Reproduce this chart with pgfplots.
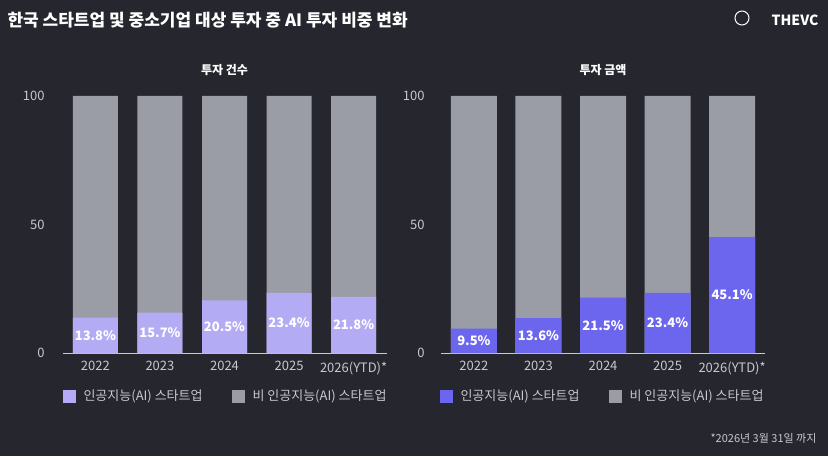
\documentclass[border=0pt]{standalone}
\usepackage{pgfplots}
\pgfplotsset{compat=1.18}
\usepackage{fontspec}
\setmainfont{Noto Sans CJK KR}
\definecolor{bg}{HTML}{25262E}
\definecolor{grayb}{HTML}{9A9CA6}
\definecolor{lightp}{HTML}{B3ABF4}
\definecolor{bluep}{HTML}{6C66EE}
\definecolor{txt}{HTML}{C8C8CE}
\definecolor{gridc}{HTML}{3A3B44}
\pgfplotsset{
 panel/.style={
  scale only axis, width=324pt, height=257pt, anchor=south west,
  xmin=-0.51, xmax=4.51, ymin=0, ymax=100,
  axis x line*=bottom, axis y line=none,
  x axis line style={draw=txt, line width=0.8pt},
  ytick={0,50,100}, ymajorgrids, grid style={gridc, line width=0.6pt},
  xtick={0,1,2,3,4}, xticklabels={2022,2023,2024,2025,2026(YTD)*},
  major tick length=0pt, xticklabel shift=5pt,
  tick label style={font=\fontsize{13}{15}\selectfont, text=txt},
  /pgf/number format/assume math mode=true,
  clip=false,
 },
 lbl/.style={draw=none, mark=none, nodes near coords, point meta=explicit symbolic,
  nodes near coords style={anchor=center, text=white, font=\bfseries\fontsize{13}{15}\selectfont}},
}
\begin{document}
\begin{tikzpicture}
\begin{scope}[x=1pt,y=1pt]
\fill[bg] (0,0) rectangle (828,456);
\node[anchor=west, text=white, font=\bfseries\fontsize{17}{19}\selectfont] at (4,436) {한국 스타트업 및 중소기업 대상 투자 중 AI 투자 비중 변화};
\node[anchor=east, text=white, font=\bfseries\itshape\fontsize{14}{16}\selectfont] at (822,436) {THEVC};
\draw[white, line width=1pt] (742,438) circle (7pt);
\foreach \v/\y in {0/103,50/231.5,100/360} \node[anchor=east,text=txt,font=\fontsize{13}{15}\selectfont] at (48,\y) {\v};
\node[text=white, font=\bfseries\fontsize{12}{14}\selectfont] at (224.5,386) {투자 건수};
\foreach \v/\y in {0/103,50/231.5,100/360} \node[anchor=east,text=txt,font=\fontsize{13}{15}\selectfont] at (428,\y) {\v};
\node[text=white, font=\bfseries\fontsize{12}{14}\selectfont] at (603,386) {투자 금액};
\fill[lightp] (63,53) rectangle (76,66);
\node[anchor=west,text=txt,font=\fontsize{13}{15}\selectfont] at (80,59.5) {인공지능(AI) 스타트업};
\fill[grayb] (232,53) rectangle (245,66);
\node[anchor=west,text=txt,font=\fontsize{13}{15}\selectfont] at (249,59.5) {비 인공지능(AI) 스타트업};
\fill[bluep] (440,53) rectangle (453,66);
\node[anchor=west,text=txt,font=\fontsize{13}{15}\selectfont] at (457,59.5) {인공지능(AI) 스타트업};
\fill[grayb] (609,53) rectangle (622,66);
\node[anchor=west,text=txt,font=\fontsize{13}{15}\selectfont] at (626,59.5) {비 인공지능(AI) 스타트업};
\node[anchor=east,text=txt,font=\fontsize{11}{13}\selectfont] at (820,18) {*2026년 3월 31일 까지};
\end{scope}
% left
\begin{axis}[panel, at={(62.5pt,103pt)}]
\addplot[ybar, bar width=45pt, bar shift=0pt, fill=grayb, draw=none] coordinates {(0,100)(1,100)(2,100)(3,100)(4,100)};
\addplot[ybar, bar width=45pt, bar shift=0pt, fill=lightp, draw=none] coordinates {(0,13.8)(1,15.7)(2,20.5)(3,23.4)(4,21.8)};
\addplot[lbl] coordinates {(0,6.9)[13.8\%] (1,7.85)[15.7\%] (2,10.25)[20.5\%] (3,11.7)[23.4\%] (4,10.9)[21.8\%]};
\end{axis}
% right
\begin{axis}[panel, at={(441pt,103pt)}]
\addplot[ybar, bar width=46pt, bar shift=0pt, fill=grayb, draw=none] coordinates {(0,100)(1,100)(2,100)(3,100)(4,100)};
\addplot[ybar, bar width=46pt, bar shift=0pt, fill=bluep, draw=none] coordinates {(0,9.5)(1,13.6)(2,21.5)(3,23.4)(4,45.1)};
\addplot[lbl] coordinates {(0,4.75)[9.5\%] (1,6.8)[13.6\%] (2,10.75)[21.5\%] (3,11.7)[23.4\%] (4,22.55)[45.1\%]};
\end{axis}
\end{tikzpicture}
\end{document}
